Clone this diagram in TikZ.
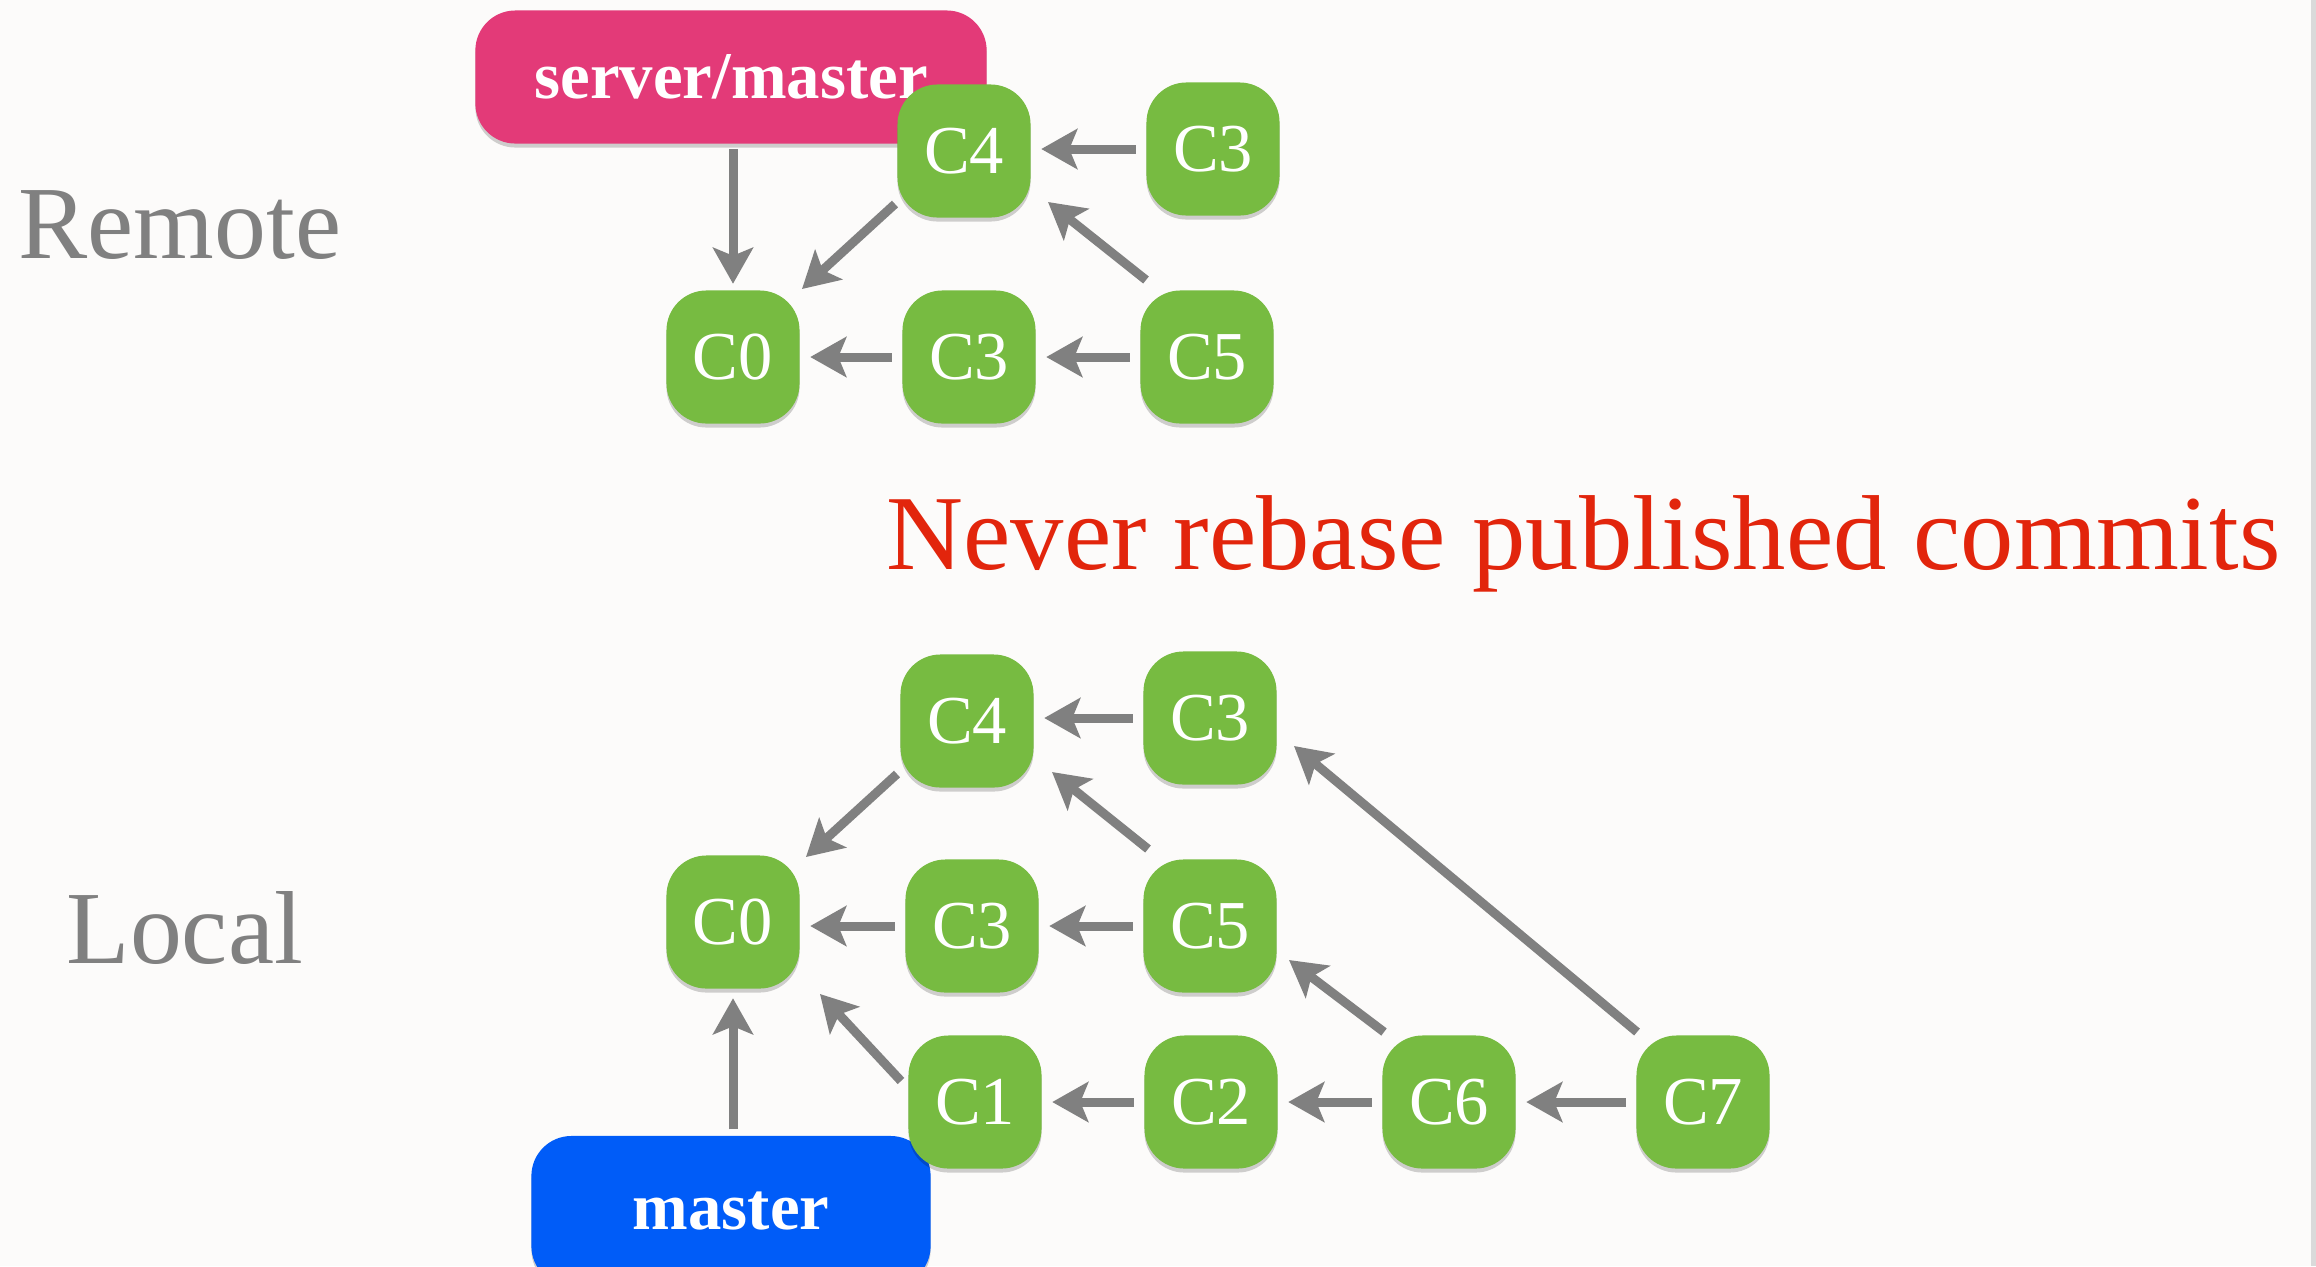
\documentclass[tikz,border=0pt]{standalone}
\usepackage{fontspec}
\setmainfont{Liberation Serif}
\usetikzlibrary{arrows.meta,shadows,calc}
\definecolor{bg}{HTML}{FCFBFA}
\definecolor{cgreen}{HTML}{77BB41}
\definecolor{cpink}{HTML}{E33A78}
\definecolor{cblue}{HTML}{005CF8}
\definecolor{cred}{HTML}{E2250C}
\definecolor{cgray}{HTML}{808080}
\definecolor{edgegray}{HTML}{DADADA}
\tikzset{
  softshadow/.style={drop shadow={shadow xshift=0pt, shadow yshift=-0.04cm, opacity=0.18, fill=black}},
  commit/.style={fill=cgreen, rounded corners=0.4cm, minimum width=1.33cm, minimum height=1.33cm,
    inner sep=0pt, text=white, font=\fontsize{19.5}{22}\selectfont, softshadow},
  branchbox/.style={rounded corners=0.4cm, inner sep=0pt, text=white,
    font=\bfseries\fontsize{19}{22}\selectfont, softshadow},
  arr/.style={draw=cgray, line width=0.09cm,
    -{Stealth[length=0.36cm,width=0.40cm,inset=0.08cm]}, shorten <=0.1cm, shorten >=0.1cm},
  sidelabel/.style={text=cgray, font=\fontsize{29.5}{33}\selectfont, anchor=base west, inner sep=0pt},
  warn/.style={text=cred, font=\fontsize{30.3}{34}\selectfont, anchor=base west, inner sep=0pt}
}
\begin{document}
\begin{tikzpicture}[x=0.01cm, y=-0.01cm]
\useasboundingbox (0,0) rectangle (2316,1266);
\fill[bg] (0,0) rectangle (2316,1266);
\fill[edgegray] (2311,0) rectangle (2316,1266);

% labels
\node[sidelabel] (remote) at (18,258) {Remote};
\node[sidelabel] (local) at (66,963) {Local};
\node[warn] (never) at (886,569) {Never rebase published commits};

% ---------- Remote ----------
\node[branchbox, fill=cpink, minimum width=5.11cm, minimum height=1.33cm] (sm) at (731,77) {server/master};
\node[commit] (rC4) at (964,151) {C4};
\node[commit] (rC3a) at (1213,149) {C3};
\node[commit] (rC0) at (733,357) {C0};
\node[commit] (rC3b) at (969,357) {C3};
\node[commit] (rC5) at (1207,357) {C5};

\draw[arr, shorten <=0.05cm, shorten >=0.06cm] (rC0 |- sm.south) -- (rC0.north);
\draw[arr] (rC3a.west) -- (rC3a.west -| rC4.east);
\draw[arr, shorten <=0pt, shorten >=0pt] ($(rC4)+(-69,53)$) -- ($(rC0)+(69,-68)$);
\draw[arr, shorten <=0pt, shorten >=0pt] ($(rC5)+(-61,-77)$) -- ($(rC4)+(84,51)$);
\draw[arr] (rC3b.west) -- (rC3b.west -| rC0.east);
\draw[arr] (rC5.west) -- (rC5.west -| rC3b.east);

% ---------- Local ----------
\node[branchbox, fill=cblue, minimum width=3.99cm, minimum height=1.50cm] (master) at (731,1211) {master};
\node[commit] (lC4) at (967,721) {C4};
\node[commit] (lC3a) at (1210,718) {C3};
\node[commit] (lC0) at (733,922) {C0};
\node[commit] (lC3b) at (972,926) {C3};
\node[commit] (lC5) at (1210,926) {C5};
\node[commit] (lC1) at (975,1102) {C1};
\node[commit] (lC2) at (1211,1102) {C2};
\node[commit] (lC6) at (1449,1102) {C6};
\node[commit] (lC7) at (1703,1102) {C7};

\draw[arr] (lC3a.west) -- (lC3a.west -| lC4.east);
\draw[arr, shorten <=0pt, shorten >=0pt] ($(lC4)+(-70,53)$) -- ($(lC0)+(73,-65)$);
\draw[arr, shorten <=0pt, shorten >=0pt] ($(lC5)+(-62,-77)$) -- ($(lC4)+(85,51)$);
\draw[arr] (lC3b.west) -- (lC3b.west -| lC0.east);
\draw[arr] (lC5.west) -- (lC5.west -| lC3b.east);
\draw[arr, shorten <=0pt, shorten >=0pt] ($(lC1)+(-74,-21)$) -- ($(lC0)+(87,72)$);
\draw[arr, shorten <=0.06cm, shorten >=0.09cm] (lC0 |- master.north) -- (lC0.south);
\draw[arr] (lC2.west) -- (lC2.west -| lC1.east);
\draw[arr] (lC6.west) -- (lC6.west -| lC2.east);
\draw[arr] (lC7.west) -- (lC7.west -| lC6.east);
\draw[arr, shorten <=0pt, shorten >=0pt] ($(lC6)+(-65,-70)$) -- ($(lC5)+(79,34)$);
\draw[arr, shorten <=0pt, shorten >=0pt] ($(lC7)+(-66,-70)$) -- ($(lC3a)+(84,28)$);
\end{tikzpicture}
\end{document}
